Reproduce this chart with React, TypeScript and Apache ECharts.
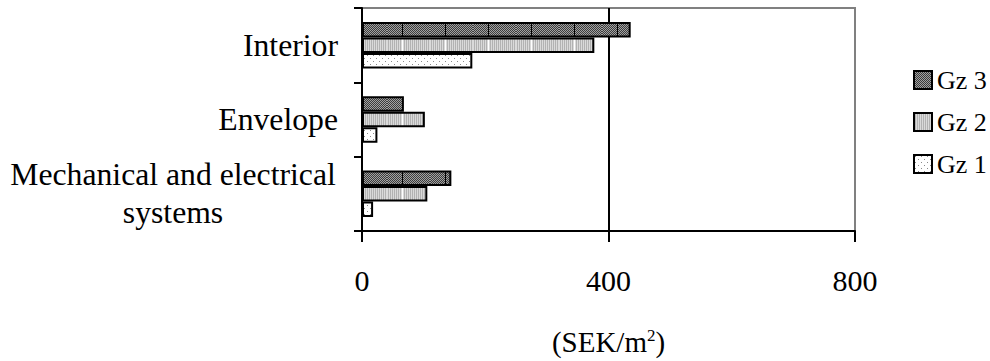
import React, { useEffect, useRef } from "react";
import * as echarts from "echarts";

// ---- data ----
const categoryLines: string[][] = [
  ["Mechanical and electrical", "systems"],
  ["Envelope"],
  ["Interior"],
];
const categories: string[] = categoryLines.map((l) => l.join(" "));
const gz3: number[] = [145, 68, 436];
const gz2: number[] = [106, 102, 377];
const gz1: number[] = [18, 25, 179];
const seriesNames: string[] = ["Gz 3", "Gz 2", "Gz 1"];
const xTicks: number[] = [0, 400, 800];
const axisUnit = "(SEK/m{sup|2})";

const FONT = "'Liberation Serif', 'Times New Roman', serif";

type Kind = "gz3" | "gz2" | "gz1";

function makePattern(kind: Kind, withSeam: boolean) {
  const c = document.createElement("canvas");
  let w = 43;
  let h = 2;
  if (kind === "gz1") {
    w = 6;
    h = 6;
  }
  if (!withSeam && kind !== "gz1") w = 4;
  c.width = w;
  c.height = h;
  const ctx = c.getContext("2d")!;
  for (let y = 0; y < h; y++) {
    for (let x = 0; x < w; x++) {
      let col = "#ffffff";
      if (kind === "gz3") {
        col = (x + y) % 2 === 0 ? "#a2a2a2" : "#3c3c3c";
        if (withSeam && x === 15) col = "#000000";
      } else if (kind === "gz2") {
        col = x % 2 === 0 ? "#dadada" : "#b2b2b2";
        if (withSeam && x === 15) col = "#ffffff";
      } else {
        col = (x === 1 && y === 1) || (x === 4 && y === 4) ? "#8a8a8a" : "#ffffff";
      }
      ctx.fillStyle = col;
      ctx.fillRect(x, y, 1, 1);
    }
  }
  return { image: c, repeat: "repeat", imageWidth: w, imageHeight: h } as any;
}

export default function App() {
  const ref = useRef<HTMLDivElement>(null);
  useEffect(() => {
    document.body.style.margin = "0";
    const chart = echarts.init(ref.current!, undefined, { renderer: "svg" });
    const kinds: Kind[] = ["gz3", "gz2", "gz1"];
    const values = [gz3, gz2, gz1];
    const barPatterns = kinds.map((k) => makePattern(k, true));
    const legendPatterns = kinds.map((k) => makePattern(k, false));
    const option: any = {
      animation: false,
      backgroundColor: "#ffffff",
      grid: {
        left: 362,
        right: 135,
        top: 8,
        bottom: 126,
        show: true,
        borderColor: "#808080",
        borderWidth: 2,
        backgroundColor: "transparent",
      },
      legend: {
        orient: "vertical",
        left: 913,
        top: 67,
        padding: 0,
        itemWidth: 18,
        itemHeight: 18,
        itemGap: 16,
        selectedMode: false,
        icon: "rect",
        textStyle: { fontSize: 26, lineHeight: 26, fontFamily: FONT, color: "#000" },
        data: seriesNames.map((n, i) => ({
          name: n,
          itemStyle: { color: legendPatterns[i], borderColor: "#000", borderWidth: 2 },
        })),
      },
      xAxis: {
        type: "value",
        min: xTicks[0],
        max: xTicks[xTicks.length - 1],
        interval: xTicks[1] - xTicks[0],
        axisLine: { show: true, onZero: false, lineStyle: { color: "#000", width: 2 } },
        axisTick: { show: true, length: 11, lineStyle: { color: "#000", width: 2 } },
        axisLabel: { margin: 34, fontSize: 30, fontFamily: FONT, color: "#000" },
        splitLine: { show: true, lineStyle: { color: ["#000", "#000", "#808080"], width: 2 } },
        name: axisUnit,
        nameLocation: "middle",
        nameGap: 96,
        nameTextStyle: {
          fontSize: 29,
          fontFamily: FONT,
          color: "#000",
          rich: {
            sup: { fontSize: 17, fontFamily: FONT, color: "#000", verticalAlign: "top" },
          },
        },
      },
      yAxis: {
        type: "category",
        data: categories,
        axisLine: { show: true, lineStyle: { color: "#000", width: 2 } },
        axisTick: { show: true, length: 8, lineStyle: { color: "#000", width: 2 } },
        splitLine: { show: false },
        axisLabel: {
          margin: 24,
          fontSize: 31.7,
          fontFamily: FONT,
          color: "#000",
          formatter: (v: string) => {
            const idx = categories.indexOf(v);
            const lines = idx >= 0 ? categoryLines[idx] : [v];
            if (lines.length === 1) return lines[0];
            return lines.map((l) => "{c|" + l + "}").join("\n");
          },
          rich: {
            c: {
              width: 330,
              align: "center",
              fontSize: 31.7,
              lineHeight: 38,
              fontFamily: FONT,
              color: "#000",
            },
          },
        },
      },
      series: seriesNames.map((n, i) => ({
        type: "bar",
        name: n,
        data: values[i],
        barGap: "0%",
        barCategoryGap: "37.5%",
        itemStyle: { color: barPatterns[i], borderColor: "#000", borderWidth: 2 },
      })),
    };
    chart.setOption(option);
    return () => chart.dispose();
  }, []);
  return (
    <div
      ref={ref}
      style={{ position: "fixed", left: 0, top: 0, width: 990, height: 361, background: "#fff" }}
    />
  );
}
